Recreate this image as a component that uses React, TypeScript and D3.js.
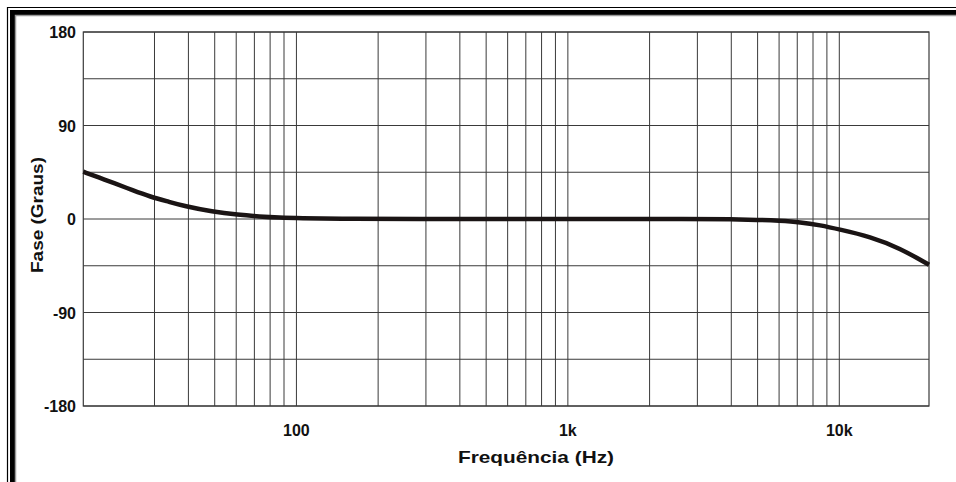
import * as d3 from 'd3'

// frequência (Hz) e fase (graus)
const freqs = [16.4, 18.9, 21.1, 25, 28.9, 34, 38.5, 49, 61, 73, 87, 100, 160, 240, 1000, 3000, 4000, 5000, 6000, 7200, 8500, 10000, 13000, 16700, 21400]
const phases = [45.5, 39.5, 35, 27.5, 21.5, 16.5, 12.5, 7, 4, 2.4, 1.3, 0.8, 0.2, 0, 0, 0, -0.3, -0.8, -1.6, -3, -6, -10, -17, -28, -44]

const xGrid = [30, 40, 50, 60, 70, 80, 90, 100, 200, 300, 400, 500, 600, 700, 800, 900, 1000, 2000, 3000, 4000, 5000, 6000, 7000, 8000, 9000, 10000]
const xLabels = [
  { f: 100, label: '100' },
  { f: 1000, label: '1k' },
  { f: 10000, label: '10k' }
]
const yTicks = [-180, -135, -90, -45, 0, 45, 90, 135, 180]
const yLabels = [-180, -90, 0, 90, 180]

const W = 956
const H = 482
const left = 83.3
const right = 929
const top = 32
const bottom = 406

const font = 'Arial, "Liberation Sans", Helvetica, sans-serif'

export default function App() {
  const x = d3.scaleLog().domain([16.4, 21400]).range([left, right])
  const y = d3.scaleLinear().domain([-180, 180]).range([bottom, top])

  const line = d3
    .line<number>()
    .x((_, i) => x(freqs[i]))
    .y(d => y(d))
    .curve(d3.curveBasis)

  return (
    <svg
      width={W}
      height={H}
      style={{ position: 'absolute', left: 0, top: 0, background: '#fff' }}
    >
      {/* moldura */}
      <path d={`M7.5,${H} V7.5 H${W}`} fill="none" stroke="#000" strokeWidth={1.2} />
      <path d={`M12.5,${H} V12.5 H${W}`} fill="none" stroke="#000" strokeWidth={5} />
      <path d={`M15.5,${H} V15.5 H${W}`} fill="none" stroke="#999" strokeWidth={1.5} />

      {/* grade */}
      <g>
        {xGrid.map(f => (
          <line key={f} x1={x(f)} x2={x(f)} y1={top} y2={bottom} stroke="#3a3a3a" strokeWidth={1} />
        ))}
        {yTicks.map(t => (
          <line key={t} x1={left} x2={right} y1={y(t)} y2={y(t)} stroke="#3a3a3a" strokeWidth={1} />
        ))}
        <rect x={left} y={top} width={right - left} height={bottom - top} fill="none" stroke="#3a3a3a" strokeWidth={1.2} />
      </g>

      {/* curva */}
      <path d={line(phases) || ''} fill="none" stroke="#1a1414" strokeWidth={4.5} strokeLinecap="butt" />

      {/* rótulos */}
      <g fontFamily={font} fontWeight="bold" fontSize={16} fill="#111">
        {yLabels.map(t => (
          <text key={t} x={76} y={y(t) + 6} textAnchor="end">
            {t}
          </text>
        ))}
        {xLabels.map(d => (
          <text key={d.label} x={x(d.f)} y={436} textAnchor="middle">
            {d.label}
          </text>
        ))}
      </g>

      <text
        x={536}
        y={463}
        textAnchor="middle"
        fontFamily={font}
        fontWeight="bold"
        fontSize={17}
        fill="#111"
        textLength={156}
        lengthAdjust="spacingAndGlyphs"
      >
        Frequência (Hz)
      </text>
      <text
        transform="translate(43,215) rotate(-90)"
        textAnchor="middle"
        fontFamily={font}
        fontWeight="bold"
        fontSize={17}
        fill="#111"
        textLength={116}
        lengthAdjust="spacingAndGlyphs"
      >
        Fase (Graus)
      </text>
    </svg>
  )
}
